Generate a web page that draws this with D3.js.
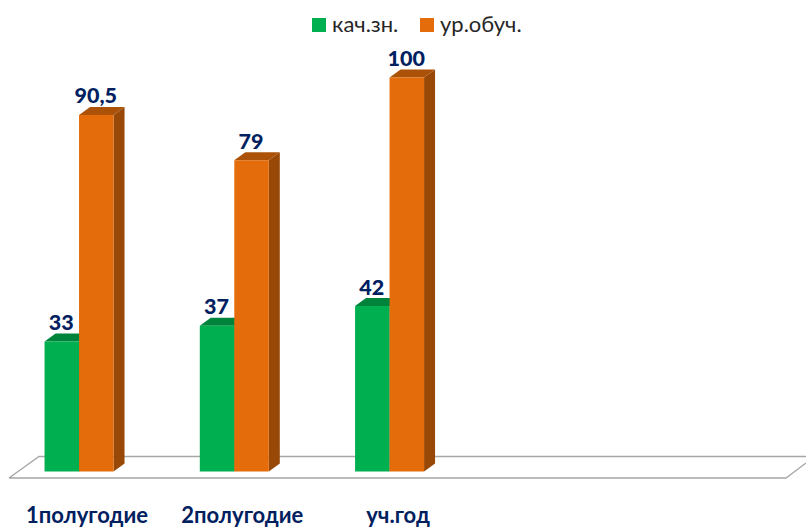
<!DOCTYPE html>
<html><head><meta charset="utf-8">
<script src="https://cdn.jsdelivr.net/npm/d3@7/dist/d3.min.js"></script>
<style>html,body{margin:0;padding:0;background:#fff}svg{display:block}text{font-family:Lato,"Open Sans",sans-serif}</style>
</head><body>
<svg id="c" width="806" height="527"></svg>
<script>
const categories = ["1полугодие","2полугодие","уч.год"];
const seriesNames = ["кач.зн.","ур.обуч."];
const kachZn = [33,37,42];
const urObuch = ["90,5","79","100"].map(s=>+s.replace(",","."));
const valueLabels = [["33","37","42"],["90,5","79","100"]];
const seriesValues = [kachZn,urObuch];
const front = ["#00b050","#e46c0a"];
const topC = ["#00843c","#ac5208"];
const sideC = ["#007a38","#984807"];

const svg = d3.select("#c");
const y = d3.scaleLinear().domain([0,100]).range([471.5,77.5]);
const x0 = d3.scaleBand().domain(categories).range([1.4,467.2]);
const x1 = d3.scaleBand().domain(seriesNames).range([0,69]);
const dx = 11, dy = 8;
const offset = x0.bandwidth()/2 - 34.5;

// floor
const floor = d3.path();
floor.moveTo(9,478); floor.lineTo(39,456.5); floor.lineTo(806,456.5);
floor.moveTo(9,478); floor.lineTo(786,478); floor.lineTo(806,463);
svg.append("path").attr("d",floor.toString()).attr("fill","none").attr("stroke","#a6a6a6").attr("stroke-width",1.3);

// bars: series drawn left-to-right so later bars cover earlier side faces
categories.forEach((c,i)=>{
  const g = svg.append("g").attr("transform",`translate(${x0(c)+offset},0)`);
  seriesNames.forEach((s,j)=>{
    const v = seriesValues[j][i];
    const l = x1(s), r = l+x1.bandwidth(), t = y(v), b = y(0);
    g.append("path").attr("fill",sideC[j])
      .attr("d",`M${r},${t}L${r+dx},${t-dy}L${r+dx},${b-dy}L${r},${b}Z`);
    g.append("path").attr("fill",topC[j])
      .attr("d",`M${l},${t}L${l+dx},${t-dy}L${r+dx},${t-dy}L${r},${t}Z`);
    g.append("rect").attr("x",l).attr("y",t).attr("width",x1.bandwidth()).attr("height",b-t).attr("fill",front[j]);
    g.append("text").attr("x",(l+r)/2-0.5).attr("y",t-dy-3.5)
      .attr("text-anchor","middle").attr("font-size",21.5).attr("font-weight",900).attr("fill","#002060")
      .text(valueLabels[j][i]);
  });
});

// category labels
const labelShift = [8,8,8.5];
categories.forEach((c,i)=>{
  svg.append("text").attr("x",x0(c)+x0.bandwidth()/2+labelShift[i]).attr("y",522.5)
    .attr("text-anchor","middle").attr("font-size",22).attr("font-weight",700).attr("fill","#002060").text(c);
});

// legend
const legX = [312,420];
seriesNames.forEach((s,j)=>{
  svg.append("rect").attr("x",legX[j]).attr("y",18).attr("width",14).attr("height",14).attr("fill",front[j]);
  svg.append("text").attr("x",legX[j]+20).attr("y",32).attr("font-size",22).attr("fill","#262626").text(s);
});
</script>
</body></html>
